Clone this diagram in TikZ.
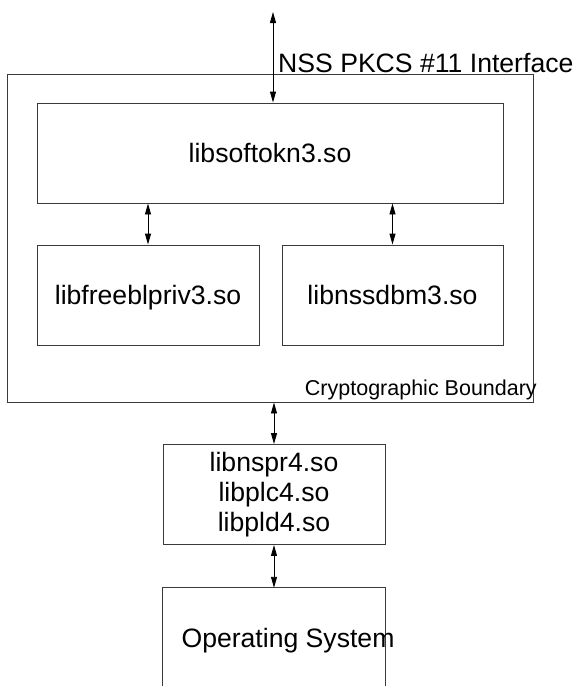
\documentclass[tikz,border=0pt]{standalone}
\usepackage{fontspec}
\setmainfont{Liberation Sans}
\usetikzlibrary{arrows.meta, positioning, calc}
\definecolor{cline}{HTML}{3A3A3A}

\begin{document}
\begin{tikzpicture}[x=1pt, y=-1pt,
  libbox/.style={draw=cline, line width=0.9pt, inner sep=0pt, align=center,
    font=\fontsize{26.6}{30}\selectfont},
  oneline/.style={text height=24pt, text depth=6pt},
  link/.style={{Triangle[length=11pt,width=6pt]}-{Triangle[length=11pt,width=6pt]},
    line width=0.9pt, black}]
  \useasboundingbox (0,0) rectangle (577,686);
  % Cryptographic boundary
  \node[libbox, minimum width=526, minimum height=328] (bound) at (270,238) {};
  % Modules inside the boundary
  \node[libbox, oneline, minimum width=466, minimum height=100] (softokn) at (270,153) {libsoftokn3.so};
  \node[libbox, oneline, minimum width=222, minimum height=100] (freebl) at (148,295) {libfreeblpriv3.so};
  \node[libbox, oneline, minimum width=221, minimum height=100] (nssdbm) at (392.5,295) {libnssdbm3.so};
  % Outside the boundary
  \node[libbox, minimum width=222, minimum height=100] (nspr) at (274,494.5)
    {libnspr4.so\\libplc4.so\\libpld4.so};
  \node[minimum width=222, minimum height=100, inner sep=0pt] (os) at (274,638) {};
  \draw[cline, line width=0.9pt] (os.south west) -- (os.north west) -- (os.north east) -- (os.south east);
  \node[font=\fontsize{26.6}{30}\selectfont, oneline, inner sep=0pt] (ostext) at (288,638) {Operating System};

  % Labels
  \node[font=\fontsize{26.6}{30}\selectfont, anchor=base west, inner sep=0pt] (iflabel) at (278,72)
    {NSS PKCS \#11 Interface};
  \node[font=\fontsize{21.5}{25}\selectfont, anchor=base east, inner sep=0pt] (bdlabel) at (537,395)
    {Cryptographic Boundary};

  % Links
  \coordinate (iface) at (273,12);
  \draw[link] (iface) -- (iface |- softokn.north);
  \draw[link] (softokn.south -| freebl) -- (freebl.north);
  \draw[link] (softokn.south -| nssdbm) -- (nssdbm.north);
  \draw[link] (bound.south -| nspr) -- (nspr.north);
  \draw[link] (nspr.south) -- (os.north);
\end{tikzpicture}
\end{document}
